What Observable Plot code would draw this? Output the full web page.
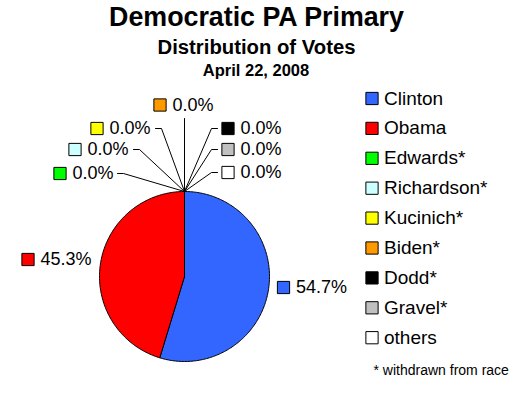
<!DOCTYPE html>
<html><head><meta charset="utf-8">
<script src="https://cdn.jsdelivr.net/npm/d3@7"></script>
<script src="https://cdn.jsdelivr.net/npm/@observablehq/plot@0.6"></script>
<style>body{margin:0;background:#fff}</style>
</head><body><div id="chart"></div>
<script>
// ---- data ----
const candidates = ["Clinton","Obama","Edwards","Richardson","Kucinich","Biden","Dodd","Gravel","others"];
const legendLabels = ["Clinton","Obama","Edwards*","Richardson*","Kucinich*","Biden*","Dodd*","Gravel*","others"];
const voteShares = [54.7,45.3,0,0,0,0,0,0,0];
const sliceColors = ["#3366ff","#ff0000","#00ff00","#ccffff","#ffff00","#ff9900","#000000","#c0c0c0","#ffffff"];
const titleLines = ["Democratic PA Primary","Distribution of Votes","April 22, 2008"];
const footnote = "* withdrawn from race";

// ---- layout ----
const W = 530, H = 393;
const FONT = "Liberation Sans, Arial, Helvetica, sans-serif";
const pie = {cx: 184, cy: 276, r: 85};
const titleLayout = [{x:256, y:17, size:26.8},{x:256, y:47, size:20.3},{x:255.5, y:70, size:16.5}];
// label boxes (square centre) + leader start/elbow
const labelLayout = {
  Clinton:    {x:283,   y:287},
  Obama:      {x:27.5,  y:259},
  Edwards:    {x:59.5,  y:173, lead:[[117,173],[123,173]]},
  Richardson: {x:74.5,  y:149, lead:[[133,149],[139,149]]},
  Kucinich:   {x:96.5,  y:128, lead:[[155,128],[161,128]]},
  Biden:      {x:159.5, y:104.5, lead:[[184,118]]},
  Dodd:       {x:227.5, y:128, lead:[[217,128],[211,128]]},
  Gravel:     {x:227.5, y:149, lead:[[217,149],[211,149]]},
  others:     {x:227.5, y:172, lead:[[217,172],[211,172]]}
};
const legendLayout = {x:371.5, y0:98, step:29.9, textDx:12};

// ---- build tables ----
const rows = candidates.map((name,i)=>({name, label:legendLabels[i], value:voteShares[i], color:sliceColors[i]}));
const arcs = d3.pie().sort(null).value(d=>d.value)(rows);
const slicePts = [];
arcs.forEach(a=>{
  const name = a.data.name, color = a.data.color;
  slicePts.push({name,color,x:pie.cx,y:pie.cy});
  const n = Math.max(1, Math.ceil((a.endAngle-a.startAngle)/(Math.PI/180)));
  for (let k=0;k<=n;k++){
    const t = a.startAngle + (a.endAngle-a.startAngle)*k/n;
    slicePts.push({name,color,x:pie.cx+pie.r*Math.sin(t), y:pie.cy-pie.r*Math.cos(t)});
  }
  slicePts.push({name,color,x:pie.cx,y:pie.cy});
});
const sliceLabels = rows.map(d=>({...d, ...labelLayout[d.name], text: d.value.toFixed(1)+"%"}));
const leaderPts = [];
sliceLabels.filter(d=>d.lead).forEach(d=>{
  d.lead.forEach(p=>leaderPts.push({name:d.name,x:p[0],y:p[1]}));
  leaderPts.push({name:d.name,x:pie.cx,y:pie.cy-pie.r});
});
const legendRows = rows.map((d,i)=>({...d, x:legendLayout.x, y:legendLayout.y0+i*legendLayout.step}));
const titles = titleLines.map((t,i)=>({text:t, ...titleLayout[i]}));

const chart = Plot.plot({
  width: W, height: H, margin: 0,
  style: {fontFamily: FONT, background: "#fff", color: "#000"},
  x: {domain:[0,W], range:[0,W], axis:null},
  y: {domain:[0,H], range:[0,H], axis:null},
  color: {type:"identity"},
  marks: [
    Plot.line(slicePts, {x:"x", y:"y", z:"name", fill:"color", stroke:"#000", strokeWidth:1, curve:"linear"}),
    Plot.line(leaderPts, {x:"x", y:"y", z:"name", stroke:"#000", strokeWidth:1}),
    Plot.dot(sliceLabels, {x:"x", y:"y", symbol:"square", r:6.9, fill:"color", stroke:"#000", strokeWidth:1}),
    Plot.text(sliceLabels, {x:"x", y:"y", text:"text", dx:12.5, textAnchor:"start", lineAnchor:"middle", fontSize:18, fill:"#000"}),
    Plot.dot(legendRows, {x:"x", y:"y", symbol:"square", r:6.9, fill:"color", stroke:"#000", strokeWidth:1}),
    Plot.text(legendRows, {x:"x", y:"y", text:"label", dx:legendLayout.textDx, textAnchor:"start", lineAnchor:"middle", fontSize:19, fill:"#000"}),
    Plot.text([footnote], {x:()=>373, y:()=>370, text:d=>d, textAnchor:"start", lineAnchor:"middle", fontSize:14, fill:"#000"}),
    Plot.text(titles, {x:"x", y:"y", text:"text", fontSize:"size", fontWeight:"bold", textAnchor:"middle", lineAnchor:"middle", fill:"#000"})
  ]
});
document.getElementById("chart").append(chart);
</script>
</body></html>
